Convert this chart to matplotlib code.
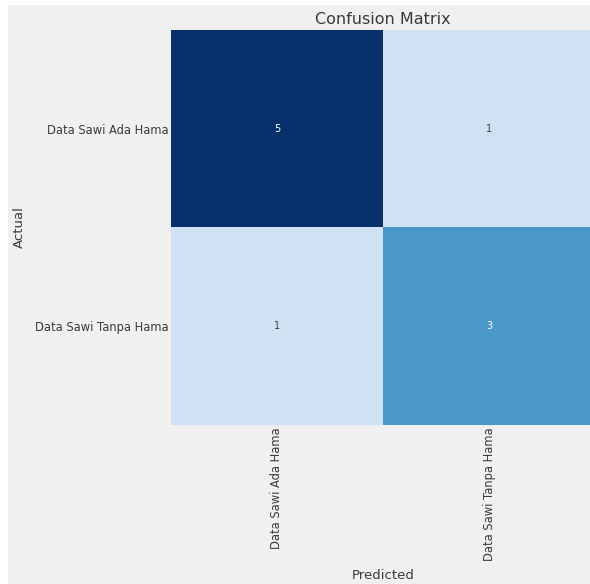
import numpy as np
import matplotlib
matplotlib.use("Agg")
import matplotlib.pyplot as plt
from matplotlib.patches import Rectangle

# data
labels = ["Data Sawi Ada Hama", "Data Sawi Tanpa Hama"]
cm = np.array([[5, 1],
               [1, 3]])

BG = "#f0f0f0"
TXT = "#3a3a3a"

fig = plt.figure(figsize=(5.9, 5.84), dpi=100, facecolor="white")
# grey figure panel (screenshot leaves a thin white strip top/left)
fig.patches.append(Rectangle((8 / 590, 0), 1, 1 - 5 / 584, transform=fig.transFigure,
                             facecolor=BG, edgecolor="none", zorder=-10))

ax = fig.add_axes([171 / 590, 1 - 425 / 584, 424 / 590, 395 / 584])
ax.set_facecolor(BG)
ax.imshow(cm, cmap="Blues", vmin=0, vmax=cm.max(), aspect="auto",
          interpolation="nearest")

for i in range(cm.shape[0]):
    for j in range(cm.shape[1]):
        col = "white" if cm[i, j] > cm.max() / 2 else TXT
        ax.text(j, i, str(cm[i, j]), ha="center", va="center",
                fontsize=7, color=col)

ax.set_xticks(range(len(labels)))
ax.set_yticks(range(len(labels)))
ax.set_xticklabels(labels, rotation=90, fontsize=8.3, color=TXT)
ax.set_yticklabels(labels, fontsize=8.3, color=TXT)
ax.tick_params(length=0, pad=2)
for s in ax.spines.values():
    s.set_visible(False)

ax.set_title("Confusion Matrix", fontsize=11.5, color=TXT, pad=4)
ax.set_xlabel("Predicted", fontsize=9.5, color=TXT, labelpad=5.5)
ax.set_ylabel("Actual", fontsize=9.5, color=TXT)
ax.yaxis.set_label_coords(-0.343, 0.5)

fig.savefig("out.png", dpi=100, facecolor=fig.get_facecolor())
